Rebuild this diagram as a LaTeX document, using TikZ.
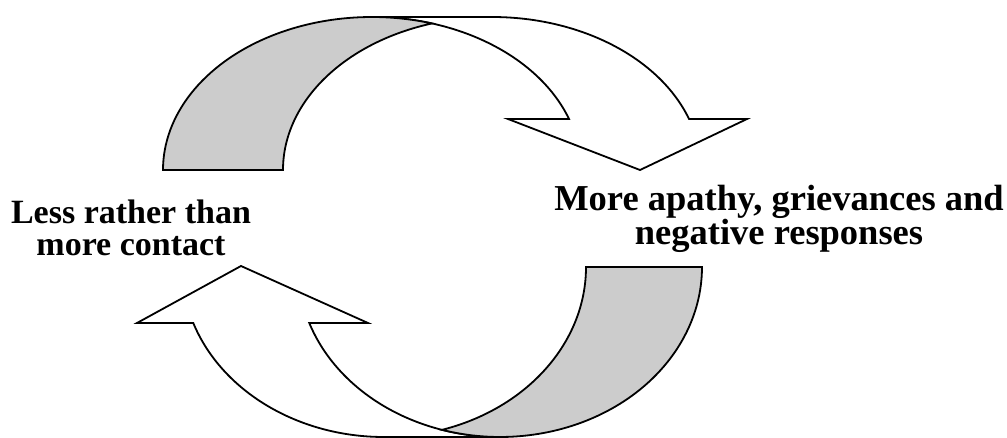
\documentclass[tikz,border=0pt]{standalone}
\usepackage{fontspec}
\setmainfont{Liberation Serif}
\usetikzlibrary{calc}
\definecolor{backgray}{RGB}{204,204,204}
\begin{document}
\begin{tikzpicture}[x=1pt,y=1pt,
  band/.style={draw=black,line width=1.8pt,line join=miter},
  frontface/.style={band,fill=white},
  backface/.style={band,fill=backgray},
  lbl/.style={font=\fontsize{34}{32}\selectfont\bfseries,align=center,inner sep=0pt},
  lblwide/.style={font=\fontsize{36.5}{32}\selectfont\bfseries,align=center,inner sep=0pt}]
\useasboundingbox (0,0) rectangle (1007,437);
% centres of the elliptical arcs
\coordinate (C1t) at (372,267);
\coordinate (C2t) at (492,267);
\coordinate (C1b) at (500,170);
\coordinate (C2b) at (384,170);
% top curved arrow (pointing down on the right)
\draw[frontface] (640,267) -- (508,318)
  -- ($(C1t)+(19.471:209pt and 153pt)$)
  arc[start angle=19.471,end angle=90,x radius=209pt,y radius=153pt]
  -- ($(C2t)+(90:209pt and 153pt)$)
  arc[start angle=90,end angle=19.471,x radius=209pt,y radius=153pt]
  -- (747,318) -- cycle;
\draw[backface] ($(C1t)+(180:209pt and 153pt)$)
  arc[start angle=180,end angle=73.316,x radius=209pt,y radius=153pt]
  arc[start angle=106.684,end angle=180,x radius=209pt,y radius=153pt]
  -- cycle;
% bottom curved arrow (pointing up on the left)
\draw[frontface] (241,171) -- (368,114)
  -- ($(C1b)+(199.233:202pt and 170pt)$)
  arc[start angle=199.233,end angle=270,x radius=202pt,y radius=170pt]
  -- ($(C2b)+(270:202pt and 170pt)$)
  arc[start angle=270,end angle=199.233,x radius=202pt,y radius=170pt]
  -- (137,114) -- cycle;
\draw[backface] ($(C1b)+(0:202pt and 170pt)$)
  arc[start angle=0,end angle=-106.687,x radius=202pt,y radius=170pt]
  arc[start angle=-73.313,end angle=0,x radius=202pt,y radius=170pt]
  -- cycle;
% labels
\node[lbl] (less) at (131,209) {Less rather than\\more contact};
\node[lblwide] (more) at (779,218) {More apathy, grievances and\\negative responses};
\end{tikzpicture}
\end{document}
